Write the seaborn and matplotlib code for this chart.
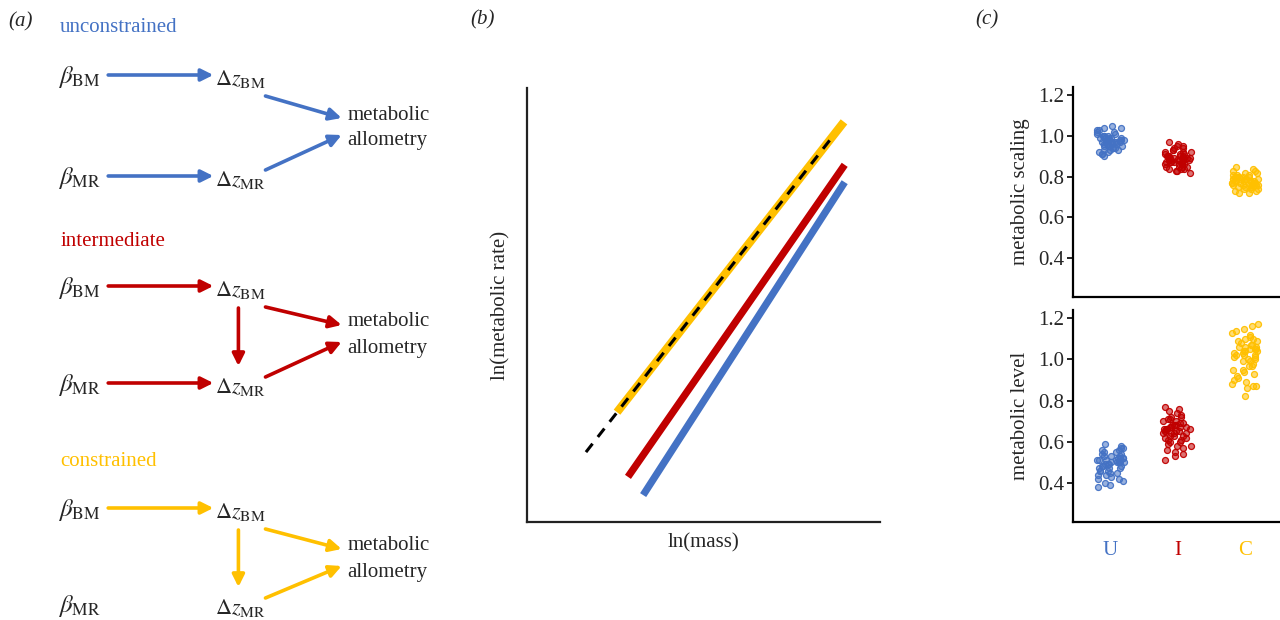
import matplotlib
matplotlib.use("Agg")
import matplotlib.pyplot as plt
import numpy as np
import pandas as pd
import seaborn as sns
from matplotlib.colors import to_rgba

sns.set_theme(style="white")
plt.rcParams["font.family"] = ["Liberation Serif", "DejaVu Serif"]
plt.rcParams["mathtext.fontset"] = "stix"
plt.rcParams["font.size"] = 15

BLUE, RED, GOLD = "#4472C4", "#C00000", "#FFC000"

# ---- data -------------------------------------------------------------
# panel (a) diagram
scenarios = ["unconstrained", "intermediate", "constrained"]
scenario_colors = [BLUE, RED, GOLD]
bm_to_mr = [False, True, True]       # vertical arrow dz_BM -> dz_MR
beta_mr_arrow = [True, True, False]  # beta_MR -> dz_MR arrow

# panel (b) lines: ln(mass) endpoints and ln(metabolic rate)
mass_c = [2.55, 8.98]
rate_c = [2.53, 9.22]
mass_ref = [1.67, 8.58]
rate_ref = [1.61, 8.80]
mass_i = [2.86, 9.0]
rate_i = [1.04, 8.23]
mass_u = [3.29, 9.0]
rate_u = [0.62, 7.83]

# panel (c) groups
groups = ["U", "I", "C"]
scaling_U = [1.05, 0.97, 1.04, 0.93, 1.04, 0.99, 1.03, 0.91, 1.03, 0.96, 1.02, 0.98, 1.02, 0.95,
             1.01, 0.94, 1.01, 0.97, 1.00, 0.92, 1.00, 0.96, 1.00, 0.99, 0.99, 0.93, 0.99, 0.97,
             0.98, 0.95, 0.98, 0.94, 0.98, 0.97, 0.98, 0.92, 0.97, 0.96, 0.97, 0.91, 0.96, 0.95,
             0.96, 0.90, 0.95, 0.98, 0.94, 1.00, 0.93, 0.99]
scaling_I = [0.97, 0.88, 0.96, 0.85, 0.95, 0.89, 0.95, 0.84, 0.94, 0.88, 0.94, 0.86, 0.93, 0.90,
             0.93, 0.83, 0.92, 0.87, 0.92, 0.89, 0.92, 0.85, 0.91, 0.88, 0.91, 0.86, 0.91, 0.84,
             0.90, 0.87, 0.90, 0.88, 0.90, 0.82, 0.90, 0.86, 0.89, 0.87, 0.89, 0.85, 0.89, 0.83,
             0.89, 0.86, 0.87, 0.88, 0.84, 0.87, 0.85, 0.88]
scaling_C = [0.85, 0.78, 0.84, 0.76, 0.83, 0.79, 0.83, 0.75, 0.82, 0.77, 0.82, 0.74, 0.81, 0.78,
             0.81, 0.76, 0.81, 0.73, 0.80, 0.77, 0.80, 0.75, 0.80, 0.78, 0.80, 0.72, 0.79, 0.76,
             0.79, 0.77, 0.79, 0.74, 0.79, 0.78, 0.78, 0.75, 0.78, 0.73, 0.77, 0.76, 0.77, 0.72,
             0.76, 0.78, 0.76, 0.77, 0.75, 0.79, 0.74, 0.80]
level_U = [0.59, 0.49, 0.58, 0.46, 0.57, 0.50, 0.57, 0.44, 0.56, 0.48, 0.56, 0.52, 0.55, 0.45,
           0.55, 0.50, 0.54, 0.47, 0.54, 0.42, 0.53, 0.49, 0.53, 0.46, 0.53, 0.51, 0.52, 0.43,
           0.52, 0.48, 0.52, 0.45, 0.51, 0.41, 0.51, 0.47, 0.51, 0.44, 0.50, 0.40, 0.50, 0.46,
           0.50, 0.39, 0.50, 0.42, 0.49, 0.38, 0.48, 0.47]
level_I = [0.77, 0.66, 0.76, 0.62, 0.75, 0.65, 0.74, 0.60, 0.73, 0.64, 0.72, 0.59, 0.72, 0.67,
           0.71, 0.63, 0.71, 0.58, 0.70, 0.66, 0.70, 0.61, 0.69, 0.64, 0.69, 0.57, 0.68, 0.65,
           0.68, 0.63, 0.67, 0.56, 0.67, 0.62, 0.67, 0.55, 0.66, 0.64, 0.66, 0.54, 0.65, 0.61,
           0.65, 0.53, 0.64, 0.60, 0.63, 0.51, 0.68, 0.58]
level_C = [1.17, 1.02, 1.16, 0.97, 1.15, 1.05, 1.14, 0.93, 1.13, 1.01, 1.12, 0.95, 1.11, 1.04,
           1.10, 0.90, 1.10, 1.00, 1.09, 0.92, 1.09, 1.06, 1.08, 0.88, 1.07, 0.99, 1.07, 0.94,
           1.06, 1.03, 1.06, 0.87, 1.05, 0.98, 1.05, 0.91, 1.04, 1.02, 1.04, 0.86, 1.03, 0.97,
           1.02, 0.89, 1.01, 0.95, 1.00, 0.82, 0.99, 0.87]

fig = plt.figure(figsize=(12.8, 6.2), dpi=100)

# ---- (a) pathway diagrams -------------------------------------------------
axa = fig.add_axes([0, 0, 0.36, 1])
axa.set_xlim(0, 460)
axa.set_ylim(620, 0)
axa.axis("off")
axa.text(8, 22, "(a)", fontsize=15, va="center", style="italic")

block_top = [27, 242, 461]
row_gap = [(48, 149, 101), (44, 141, 93), (47, 143, 98)]
for name, col, top, gaps, vert, mr_arrow in zip(scenarios, scenario_colors, block_top,
                                                  row_gap, bm_to_mr, beta_mr_arrow):
    y1, y2, ym = top + gaps[0], top + gaps[1], top + gaps[2]
    axa.text(60, top, name, color=col, fontsize=15, va="center")
    akw = dict(arrowstyle="-|>", color=col, lw=2.6, mutation_scale=18, shrinkA=0, shrinkB=0)
    for y, sub in [(y1, "BM"), (y2, "MR")]:
        axa.text(58, y + 2, r"$\beta_{\mathrm{%s}}$" % sub, fontsize=18, va="center")
        axa.text(215, y + 4, r"$\Delta z_{\mathrm{%s}}$" % sub, fontsize=16, va="center")
    axa.annotate("", xy=(213, y1), xytext=(108, y1), arrowprops=akw)
    if mr_arrow:
        axa.annotate("", xy=(213, y2), xytext=(108, y2), arrowprops=akw)
    if vert:
        axa.annotate("", xy=(238, y2 - 17), xytext=(238, y1 + 22), arrowprops=akw)
    axa.annotate("", xy=(341, ym - 10), xytext=(265, y1 + 21), arrowprops=akw)
    axa.annotate("", xy=(341, ym + 7), xytext=(265, y2 - 6), arrowprops=akw)
    axa.text(347, ym - 13, "metabolic", fontsize=15, va="center")
    axa.text(347, ym + 13, "allometry", fontsize=15, va="center")

# ---- (b) allometry lines --------------------------------------------------
axb = fig.add_axes([527 / 1280, 98 / 620, 353 / 1280, 434 / 620])
sns.lineplot(x=mass_c, y=rate_c, color=GOLD, lw=6, ax=axb, solid_capstyle="butt")
sns.lineplot(x=mass_ref, y=rate_ref, color="black", lw=2.2, ax=axb, dashes=False,
             linestyle=(0, (3.5, 2.8)))
sns.lineplot(x=mass_i, y=rate_i, color=RED, lw=5.2, ax=axb, solid_capstyle="butt")
sns.lineplot(x=mass_u, y=rate_u, color=BLUE, lw=5.2, ax=axb, solid_capstyle="butt")
axb.set_xlim(0, 10)
axb.set_ylim(0, 10)
axb.set_xticks([])
axb.set_yticks([])
sns.despine(ax=axb)
for s in ["left", "bottom"]:
    axb.spines[s].set_color("#222222")
    axb.spines[s].set_linewidth(1.6)
axb.set_xlabel("ln(mass)", fontsize=15, labelpad=8)
axb.set_ylabel("ln(metabolic rate)", fontsize=15, labelpad=12)
fig.text(470 / 1280, 1 - 20 / 620, "(b)", fontsize=15, style="italic", va="center")

# ---- (c) strip plots --------------------------------------------------------
np.random.seed(3)
palette = dict(zip(groups, [BLUE, RED, GOLD]))
top_df = pd.DataFrame({
    "group": np.repeat(groups, [len(scaling_U), len(scaling_I), len(scaling_C)]),
    "value": scaling_U + scaling_I + scaling_C,
})
bot_df = pd.DataFrame({
    "group": np.repeat(groups, [len(level_U), len(level_I), len(level_C)]),
    "value": level_U + level_I + level_C,
})

axc1 = fig.add_axes([1073 / 1280, 323 / 620, 207 / 1280, 210 / 620])
axc2 = fig.add_axes([1073 / 1280, 98 / 620, 207 / 1280, 212 / 620])
for ax, df, lab in [(axc1, top_df, "metabolic scaling"), (axc2, bot_df, "metabolic level")]:
    sns.stripplot(data=df, x="group", y="value", hue="group", palette=palette,
                  order=groups, jitter=0.21, size=4.3, legend=False, ax=ax)
    for coll in ax.collections:
        fc = coll.get_facecolor()[0]
        coll.set_facecolor(to_rgba(fc, 0.55))
        coll.set_edgecolor(to_rgba(fc, 0.95))
        coll.set_linewidth(0.9)
    ax.set_xlim(-0.55, 2.52)
    ax.set_ylim(0.21, 1.24)
    ax.set_yticks([0.4, 0.6, 0.8, 1.0, 1.2])
    ax.set_yticklabels(["0.4", "0.6", "0.8", "1.0", "1.2"], fontsize=15)
    ax.tick_params(axis="y", left=True, length=4, width=1.2, color="black", pad=2)
    ax.set_ylabel(lab, fontsize=15, labelpad=6)
    ax.set_xlabel("")
    sns.despine(ax=ax)
    for s in ["left", "bottom"]:
        ax.spines[s].set_color("black")
        ax.spines[s].set_linewidth(1.6)

axc1.set_xticks([])
axc2.set_xticks(range(3))
axc2.set_xticklabels(groups, fontsize=15)
axc2.tick_params(axis="x", bottom=False, pad=8)
for lbl, g in zip(axc2.get_xticklabels(), groups):
    lbl.set_color(palette[g])
fig.text(975 / 1280, 1 - 20 / 620, "(c)", fontsize=15, style="italic", va="center")

fig.savefig("out.png", dpi=100)
